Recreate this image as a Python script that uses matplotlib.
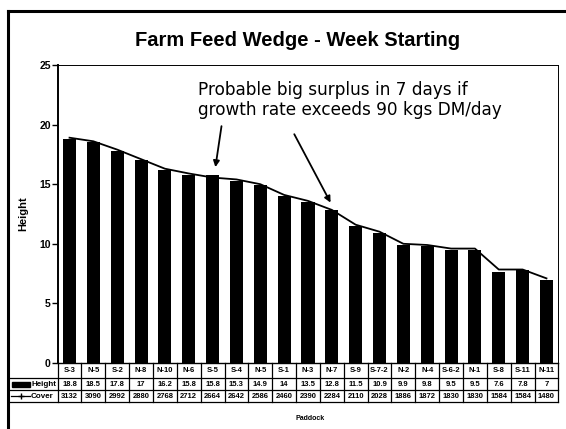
import matplotlib
matplotlib.use("Agg")
import matplotlib.pyplot as plt
from matplotlib.lines import Line2D
from matplotlib.patches import Rectangle
import numpy as np

paddocks = ["S-3", "N-5", "S-2", "N-8", "N-10", "N-6", "S-5", "S-4", "N-5", "S-1", "N-3",
            "N-7", "S-9", "S-7-2", "N-2", "N-4", "S-6-2", "N-1", "S-8", "S-11", "N-11"]
height = [18.8, 18.5, 17.8, 17, 16.2, 15.8, 15.8, 15.3, 14.9, 14, 13.5,
          12.8, 11.5, 10.9, 9.9, 9.8, 9.5, 9.5, 7.6, 7.8, 7]
cover = [3132, 3090, 2992, 2880, 2768, 2712, 2664, 2642, 2586, 2460, 2390,
         2284, 2110, 2028, 1886, 1872, 1830, 1830, 1584, 1584, 1480]
height_labels = ["18.8", "18.5", "17.8", "17", "16.2", "15.8", "15.8", "15.3", "14.9", "14", "13.5",
                 "12.8", "11.5", "10.9", "9.9", "9.8", "9.5", "9.5", "7.6", "7.8", "7"]
yticks = [0, 5, 10, 15, 20, 25]
title = "Farm Feed Wedge - Week Starting"
note = "Probable big surplus in 7 days if\ngrowth rate exceeds 90 kgs DM/day"

W, H = 566, 429
fig = plt.figure(figsize=(W / 100, H / 100), dpi=100)
fig.patch.set_facecolor("white")

# axes placement in pixels
ax_l, ax_r, ax_t, ax_b = 57.6, 558.4, 65, 363
ax = fig.add_axes([ax_l / W, 1 - ax_b / H, (ax_r - ax_l) / W, (ax_b - ax_t) / H])

x = np.arange(len(paddocks))
ax.bar(x, height, width=0.55, color="black", zorder=2)
ax.set_xlim(-0.5, len(paddocks) - 0.5)
ax.set_ylim(0, 25)
ax.set_yticks(yticks)
ax.set_yticklabels([str(t) for t in yticks], fontsize=7.5, fontweight="bold", family="Liberation Sans")
ax.tick_params(axis="y", direction="out", length=4, width=1, pad=1)
ax.set_xticks([])
for s in ["top", "right"]:
    ax.spines[s].set_linewidth(0.7)
ax.spines["left"].set_linewidth(1.4)
ax.spines["bottom"].set_linewidth(1.0)
ax.set_ylabel("Height", fontsize=8, fontweight="bold", family="Liberation Sans", labelpad=8)

# cover on hidden secondary axis
ax2 = ax.twinx()
ax2.plot(x, cover, color="black", lw=1.3, zorder=3)
ax2.set_ylim(486, 486 + 25 * 140)
ax2.set_yticks([])
for s in ax2.spines.values():
    s.set_visible(False)

# title
fig.text(298 / W, 1 - 41 / H, title, ha="center", va="center",
         fontsize=14.5, fontweight="bold", family="Liberation Sans")

# annotation
ax.text(198 / W, 1 - 100 / H, note, transform=fig.transFigure, ha="left", va="center",
        fontsize=12.2, family="DejaVu Sans", linespacing=1.1)
ax.annotate("", xy=(6.1, 16.2), xytext=(6.39, 20.1),
            arrowprops=dict(arrowstyle="-|>", color="black", lw=1.3, mutation_scale=9))
ax.annotate("", xy=(11.0, 13.25), xytext=(9.37, 19.4),
            arrowprops=dict(arrowstyle="-|>", color="black", lw=1.3, mutation_scale=9))

# data table drawn below the axes (pixel rows)
rows_px = [363, 378, 390, 402]
def fy(p):
    return 1 - p / H
def fx_data(v):
    return (ax_l + (v + 0.5) * (ax_r - ax_l) / len(paddocks)) / W

tab_left = 8
for p in rows_px[1:]:
    fig.add_artist(Line2D([tab_left / W, ax_r / W], [fy(p), fy(p)], color="black", lw=0.9))
fig.add_artist(Line2D([tab_left / W, tab_left / W], [fy(rows_px[1]), fy(rows_px[3])], color="black", lw=0.9))
for i in range(len(paddocks) + 1):
    xx = fx_data(i - 0.5)
    fig.add_artist(Line2D([xx, xx], [fy(rows_px[0]), fy(rows_px[3])], color="black", lw=0.9))

tfont = dict(fontsize=5.5, fontweight="bold", family="Liberation Sans", ha="center", va="center")
for i in range(len(paddocks)):
    cx = fx_data(i)
    fig.text(cx, fy((rows_px[0] + rows_px[1]) / 2), paddocks[i], **tfont)
    fig.text(cx, fy((rows_px[1] + rows_px[2]) / 2), height_labels[i], **tfont)
    fig.text(cx, fy((rows_px[2] + rows_px[3]) / 2), str(cover[i]), **tfont)

# row headers with legend keys
ym = fy((rows_px[1] + rows_px[2]) / 2)
fig.add_artist(Rectangle((12 / W, ym - 2.5 / H), 18 / W, 5 / H, color="black", transform=fig.transFigure))
fig.text(31 / W, ym, "Height", fontsize=5.8, fontweight="bold", family="Liberation Sans", ha="left", va="center")
ym2 = fy((rows_px[2] + rows_px[3]) / 2)
fig.add_artist(Line2D([11 / W, 30 / W], [ym2, ym2], color="black", lw=0.9))
fig.add_artist(Line2D([20.5 / W], [ym2], color="black", marker="+", markersize=4, lw=0))
fig.text(31 / W, ym2, "Cover", fontsize=5.8, fontweight="bold", family="Liberation Sans", ha="left", va="center")

fig.text(310 / W, fy(418), "Paddock", fontsize=5, fontweight="bold", family="Liberation Sans",
         ha="center", va="center")

# outer frame (scanned page border)
fig.add_artist(Line2D([8 / W, 566 / W], [fy(11), fy(11)], color="black", lw=2.2))
fig.add_artist(Line2D([8 / W, 8 / W], [fy(11), 0], color="black", lw=2.2))

fig.savefig("out.png", dpi=100, facecolor="white")
